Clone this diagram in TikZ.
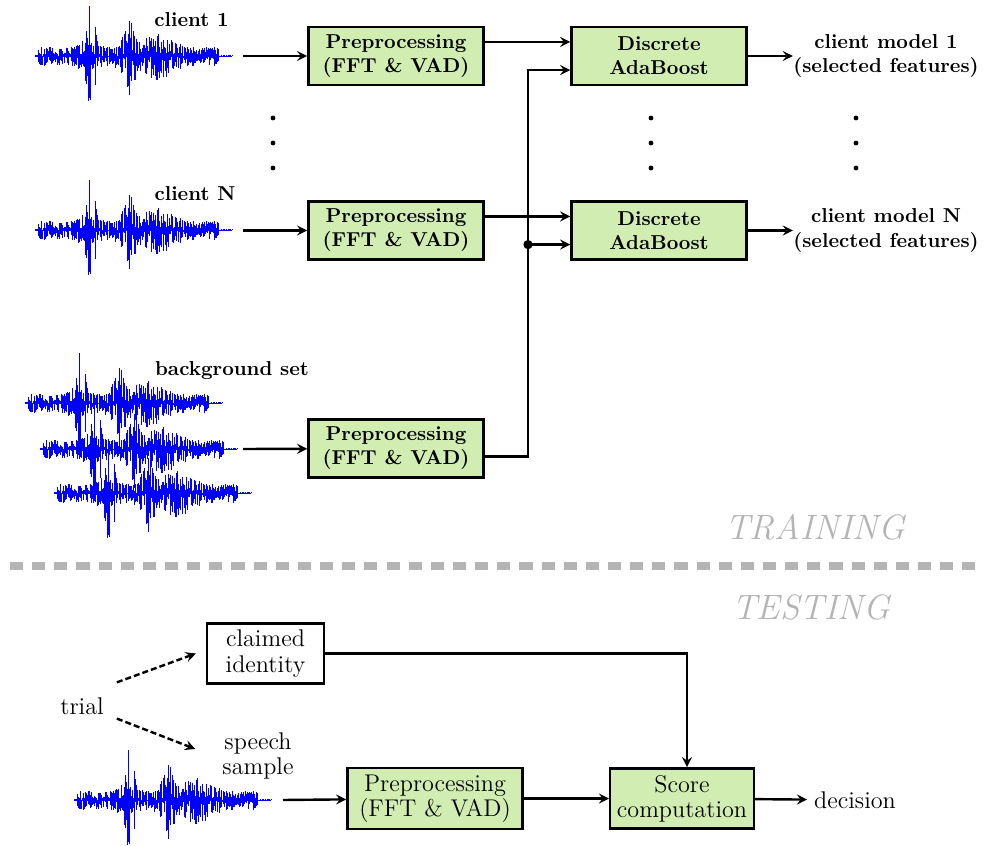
\documentclass[tikz,border=0pt]{standalone}
\usepackage{tikz}
\definecolor{boxgreen}{RGB}{209,237,177}
\definecolor{phasegray}{RGB}{180,180,180}
\tikzset{
  prebox/.style={draw,line width=1.2pt,fill=boxgreen,align=center,minimum width=87pt,minimum height=29pt},
  trainbox/.style={prebox,font=\bfseries},
  testbox/.style={prebox,font=\fontsize{12}{12.5}\selectfont},
  trainlabel/.style={font=\bfseries,align=center},
  testlabel/.style={font=\fontsize{12}{12.5}\selectfont,align=center},
  phase/.style={text=phasegray,font=\fontsize{17.5}{20}\selectfont\itshape},
  conn/.style={->,line width=1.2pt},
  wave/.style={blue,line width=0.22pt}
}
% #1 = left end, #2 = middle line of the wave
\newcommand\speechwave[2]{%
  \pgfmathsetseed{4711}%
  \draw[wave](#1,#2)--++(197,0);%
  \foreach \t in {0,0.6,...,197}{%
    \pgfmathsetmacro\env{(\t>3)*(\t<184)*(8+13*exp(-min(9,((\t-122)/20)^2)))+32*exp(-min(9,((\t-56)/4.5)^2))+12*exp(-min(9,((\t-53)/9)^2))+24*exp(-min(9,((\t-95)/5)^2))+9*exp(-min(9,((\t-90)/9)^2))+1}%
    \pgfmathsetmacro\up{\env*rnd^1.4}%
    \pgfmathsetmacro\dn{\env*rnd^1.4*1.1}%
    \draw[wave](#1+\t,#2-\up)--(#1+\t,#2+\dn);%
  }%
}

\begin{document}
\begin{tikzpicture}[x=0.01746cm,y=-0.01746cm,>=stealth]
%\draw[help lines,step=50] (0,0)grid(983,846);
\useasboundingbox (0,0)rectangle(983,846);
\draw (243,56)coordinate(w1)
      (243,230.5)coordinate(w2)
      (243,449)coordinate(w3)
      (283,800)coordinate(w4)
      (528,150)coordinate(bus);
% training
\speechwave{35}{56}
\speechwave{35}{230}
\speechwave{25}{403}
\speechwave{40}{449}
\speechwave{54}{493}
\node[trainlabel](c1)at(191.5,20){client 1};
\node[trainlabel](cN)at(195,194){client N};
\node[trainlabel](bg)at(232,371){background set};
\node[trainbox](prep1)at(396,56){Preprocessing\\(FFT \& VAD)};
\node[trainbox](prep2)at(396,230.5){Preprocessing\\(FFT \& VAD)};
\node[trainbox](prep3)at(396,448.5){Preprocessing\\(FFT \& VAD)};
\node[trainbox](disc1)at(659,56){Discrete\\AdaBoost};
\node[trainbox](disc2)at(659,230.5){Discrete\\AdaBoost};
\node[trainlabel,inner sep=0pt](m1)at(886,56){client model 1\\(selected features)};
\node[trainlabel,inner sep=0pt](mN)at(886,230.5){client model N\\(selected features)};
\foreach \x in {273,651,856}{\foreach \y in {118,143,168}{\fill(\x,\y)circle(1.2pt);}}
\draw[conn](w1)--(prep1);
\draw[conn](w2)--(prep2);
\draw[conn](w3)--(prep3);
\draw[conn]([yshift=7pt]prep1.east)--([yshift=7pt]disc1.west);
\draw[conn]([yshift=7pt]prep2.east)--([yshift=7pt]disc2.west);
\draw[conn]([yshift=-4pt]prep3.east)-|(bus)|-([yshift=-7pt]disc1.west);
\coordinate(in2)at([yshift=-7pt]disc2.west);
\fill(bus|-in2)circle(2.3pt);
\draw[conn](bus|-in2)--(in2);
\draw[conn](disc1)--(m1);
\draw[conn](disc2)--(mN);
\node[phase](train)at(815,527){TRAINING};
\draw[phasegray,line width=3.6pt,dash pattern=on 6.5pt off 4.5pt](10,566)--(983,566);
\node[phase](test)at(811,607){TESTING};
% testing
\speechwave{74}{800}
\node[testlabel](trial)at(82,706){trial};
\node[testlabel](speech)at(258,756){speech\\sample};
\node[draw,line width=1.2pt,fill=white,testlabel,minimum width=58pt,minimum height=29pt](claimed)at(265.5,653.5){claimed\\identity};
\node[testbox](prep4)at(435,798.5){Preprocessing\\(FFT \& VAD)};
\node[testbox,minimum width=71pt](score)at(682,798.5){Score\\computation};
\node[testlabel](decision)at(855,800){decision};
\draw[conn,dash pattern=on 3pt off 1.5pt]([shift={(3pt,4pt)}]trial.north east)--([xshift=-5pt]claimed.west);
\draw[conn,dash pattern=on 3pt off 1.5pt]([shift={(3pt,1.5pt)}]trial.south east)--([shift={(-10pt,3.5pt)}]speech.west);
\draw[conn](claimed.east)-|([xshift=2.5pt]score.north);
\draw[conn](w4)--(prep4);
\draw[conn](prep4)--(score);
\draw[conn](score)--(decision);
\end{tikzpicture}
\end{document}
